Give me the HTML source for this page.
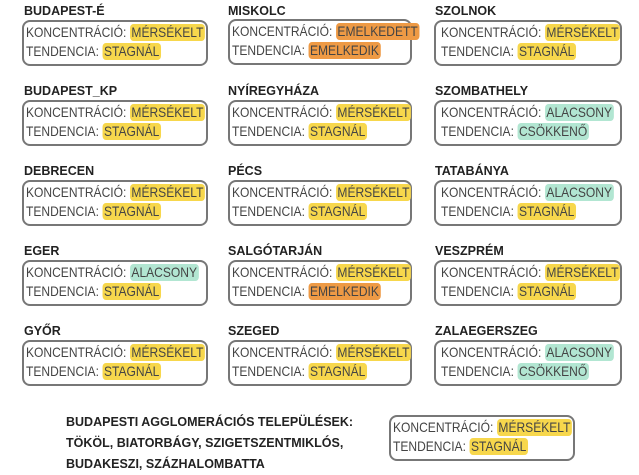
<!DOCTYPE html><html><head><meta charset="utf-8"><style>
body{margin:0;width:639px;height:470px;background:#fff;position:relative;font-family:"Liberation Sans",sans-serif;color:#444;overflow:hidden}
.t{position:absolute;font-weight:bold;font-size:12.5px;color:#222;white-space:nowrap}
.b{position:absolute;border:2px solid #777;border-radius:8px;height:42px;box-sizing:content-box;font-size:14px;white-space:nowrap}
.l{position:absolute;left:2px;line-height:17px;transform:scaleX(0.86);transform-origin:0 50%}
.l1{top:2px}.l2{top:21px}
.y,.o,.g{border-radius:4px;padding:0 2px;display:inline-block;line-height:17px}
.y{background:#f7d74c}.o{background:#ee9a45}.g{background:#b2e6d2}
</style></head><body>
<div class="t" style="left:24px;top:4px">BUDAPEST-É</div>
<div class="b" style="left:22px;top:20px;width:182px"><div class="l l1">KONCENTRÁCIÓ: <span class="y">MÉRSÉKELT</span></div><div class="l l2">TENDENCIA: <span class="y">STAGNÁL</span></div></div>
<div class="t" style="left:24px;top:84px">BUDAPEST_KP</div>
<div class="b" style="left:22px;top:100px;width:182px"><div class="l l1">KONCENTRÁCIÓ: <span class="y">MÉRSÉKELT</span></div><div class="l l2">TENDENCIA: <span class="y">STAGNÁL</span></div></div>
<div class="t" style="left:24px;top:164px">DEBRECEN</div>
<div class="b" style="left:22px;top:180px;width:182px"><div class="l l1">KONCENTRÁCIÓ: <span class="y">MÉRSÉKELT</span></div><div class="l l2">TENDENCIA: <span class="y">STAGNÁL</span></div></div>
<div class="t" style="left:24px;top:244px">EGER</div>
<div class="b" style="left:22px;top:260px;width:182px"><div class="l l1">KONCENTRÁCIÓ: <span class="g">ALACSONY</span></div><div class="l l2">TENDENCIA: <span class="y">STAGNÁL</span></div></div>
<div class="t" style="left:24px;top:324px">GYŐR</div>
<div class="b" style="left:22px;top:340px;width:182px"><div class="l l1">KONCENTRÁCIÓ: <span class="y">MÉRSÉKELT</span></div><div class="l l2">TENDENCIA: <span class="y">STAGNÁL</span></div></div>

<div class="t" style="left:228px;top:4px">MISKOLC</div>
<div class="b" style="left:228px;top:19px;width:180px"><div class="l l1">KONCENTRÁCIÓ: <span class="o">EMELKEDETT</span></div><div class="l l2">TENDENCIA: <span class="o">EMELKEDIK</span></div></div>
<div class="t" style="left:228px;top:84px">NYÍREGYHÁZA</div>
<div class="b" style="left:228px;top:100px;width:180px"><div class="l l1">KONCENTRÁCIÓ: <span class="y">MÉRSÉKELT</span></div><div class="l l2">TENDENCIA: <span class="y">STAGNÁL</span></div></div>
<div class="t" style="left:228px;top:164px">PÉCS</div>
<div class="b" style="left:228px;top:180px;width:180px"><div class="l l1">KONCENTRÁCIÓ: <span class="y">MÉRSÉKELT</span></div><div class="l l2">TENDENCIA: <span class="y">STAGNÁL</span></div></div>
<div class="t" style="left:228px;top:244px">SALGÓTARJÁN</div>
<div class="b" style="left:228px;top:260px;width:180px"><div class="l l1">KONCENTRÁCIÓ: <span class="y">MÉRSÉKELT</span></div><div class="l l2">TENDENCIA: <span class="o">EMELKEDIK</span></div></div>
<div class="t" style="left:228px;top:324px">SZEGED</div>
<div class="b" style="left:228px;top:340px;width:180px"><div class="l l1">KONCENTRÁCIÓ: <span class="y">MÉRSÉKELT</span></div><div class="l l2">TENDENCIA: <span class="y">STAGNÁL</span></div></div>

<div class="t" style="left:435px;top:4px">SZOLNOK</div>
<div class="b" style="left:434px;top:20px;width:184px"><div class="l l1" style="left:5px">KONCENTRÁCIÓ: <span class="y">MÉRSÉKELT</span></div><div class="l l2" style="left:5px">TENDENCIA: <span class="y">STAGNÁL</span></div></div>
<div class="t" style="left:435px;top:84px">SZOMBATHELY</div>
<div class="b" style="left:434px;top:100px;width:184px"><div class="l l1" style="left:5px">KONCENTRÁCIÓ: <span class="g">ALACSONY</span></div><div class="l l2" style="left:5px">TENDENCIA: <span class="g">CSÖKKENŐ</span></div></div>
<div class="t" style="left:435px;top:164px">TATABÁNYA</div>
<div class="b" style="left:434px;top:180px;width:184px"><div class="l l1" style="left:5px">KONCENTRÁCIÓ: <span class="g">ALACSONY</span></div><div class="l l2" style="left:5px">TENDENCIA: <span class="y">STAGNÁL</span></div></div>
<div class="t" style="left:435px;top:244px">VESZPRÉM</div>
<div class="b" style="left:434px;top:260px;width:184px"><div class="l l1" style="left:5px">KONCENTRÁCIÓ: <span class="y">MÉRSÉKELT</span></div><div class="l l2" style="left:5px">TENDENCIA: <span class="y">STAGNÁL</span></div></div>
<div class="t" style="left:435px;top:324px">ZALAEGERSZEG</div>
<div class="b" style="left:434px;top:340px;width:184px"><div class="l l1" style="left:5px">KONCENTRÁCIÓ: <span class="g">ALACSONY</span></div><div class="l l2" style="left:5px">TENDENCIA: <span class="g">CSÖKKENŐ</span></div></div>

<div class="t" style="left:66px;top:412px;line-height:21px">BUDAPESTI AGGLOMERÁCIÓS TELEPÜLÉSEK:<br>TÖKÖL, BIATORBÁGY, SZIGETSZENTMIKLÓS,<br>BUDAKESZI, SZÁZHALOMBATTA</div>
<div class="b" style="left:389px;top:415px;width:182px"><div class="l l1">KONCENTRÁCIÓ: <span class="y">MÉRSÉKELT</span></div><div class="l l2">TENDENCIA: <span class="y">STAGNÁL</span></div></div>
</body></html>
